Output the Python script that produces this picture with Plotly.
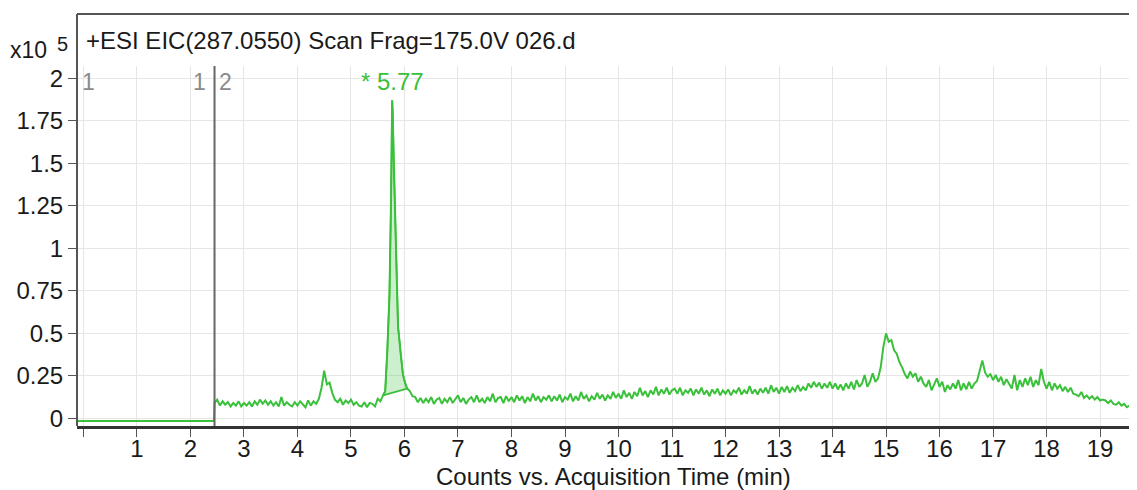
import numpy as np
import plotly.graph_objects as go

# ---------------- data (x10^5 counts vs. minutes) ----------------
flat_t = [-0.12, 2.44]
flat_v = [-0.015, -0.015]

seg1_start, seg1_step = 2.45, 0.05
seg1_v = [
    0.09, 0.11, 0.075, 0.10, 0.08, 0.095, 0.07, 0.09, 0.075, 0.10, 0.07,
    0.09, 0.075, 0.095, 0.07, 0.10, 0.08, 0.11, 0.085, 0.105, 0.08,
    0.10, 0.075, 0.095, 0.07, 0.125, 0.075, 0.095, 0.08, 0.07, 0.095,
    0.075, 0.10, 0.08, 0.065, 0.105, 0.075, 0.10, 0.085, 0.115, 0.18,
    0.28, 0.20, 0.21, 0.15, 0.11, 0.095, 0.115, 0.08, 0.105, 0.09,
    0.11, 0.08, 0.095, 0.075, 0.07, 0.095, 0.065, 0.09, 0.085, 0.07, 0.115, 0.10,
]

peak_t = [5.60, 5.64, 5.68, 5.72, 5.75, 5.765, 5.77, 5.78, 5.80, 5.83, 5.85,
          5.88, 5.93, 5.97, 6.01, 6.05]
peak_v = [0.135, 0.16, 0.40, 0.73, 1.30, 1.75, 1.87, 1.80, 1.51, 1.14, 0.90,
          0.54, 0.38, 0.26, 0.21, 0.175]

seg2_start, seg2_step = 6.10, 0.05
seg2_v = [
    0.16, 0.13, 0.125, 0.095, 0.12, 0.09, 0.115, 0.095, 0.125, 0.085, 0.11, 0.12, 0.085, 0.115, 0.095, 0.125, 0.09, 0.11,
    0.135, 0.095, 0.12, 0.085, 0.11, 0.125, 0.095, 0.135, 0.095, 0.115, 0.09, 0.125, 0.10, 0.145, 0.095, 0.12, 0.125, 0.09, 0.13, 0.10,
    0.125, 0.095, 0.135, 0.105, 0.13, 0.09, 0.125, 0.10, 0.145, 0.105, 0.13, 0.095, 0.125, 0.11, 0.135, 0.10, 0.13, 0.105, 0.14, 0.095,
    0.125, 0.11, 0.145, 0.10, 0.13, 0.105, 0.155, 0.115, 0.135, 0.10, 0.13, 0.11, 0.15, 0.115, 0.14, 0.105, 0.135, 0.115, 0.155, 0.12,
    0.145, 0.115, 0.165, 0.125, 0.15, 0.115, 0.155, 0.13, 0.18, 0.135, 0.16, 0.125, 0.165, 0.14, 0.185, 0.135, 0.17, 0.145, 0.18, 0.14,
    0.165, 0.175, 0.145, 0.18, 0.135, 0.165, 0.15, 0.175, 0.135, 0.17, 0.145, 0.18, 0.14, 0.165, 0.13, 0.17, 0.145, 0.175, 0.135, 0.165,
    0.145, 0.17, 0.135, 0.165, 0.15, 0.18, 0.14, 0.165, 0.145, 0.19, 0.145, 0.17, 0.14, 0.175, 0.15, 0.18, 0.145, 0.195, 0.155, 0.18,
    0.145, 0.185, 0.155, 0.19, 0.15, 0.18, 0.16, 0.195, 0.16, 0.185, 0.165, 0.205, 0.18, 0.215, 0.185, 0.21, 0.175, 0.205, 0.18, 0.215,
    0.175, 0.205, 0.17, 0.20, 0.165, 0.205, 0.175, 0.215, 0.17, 0.225, 0.185, 0.205, 0.255, 0.185, 0.215, 0.265, 0.215, 0.235, 0.30, 0.42,
    0.50, 0.45, 0.46, 0.40, 0.38, 0.33, 0.30, 0.26, 0.235, 0.275, 0.245, 0.265, 0.215, 0.245, 0.205, 0.185, 0.225, 0.165, 0.205, 0.235,
    0.185, 0.215, 0.155, 0.195, 0.17, 0.205, 0.175, 0.225, 0.165, 0.205, 0.17, 0.215, 0.175, 0.205, 0.22, 0.28, 0.34, 0.27, 0.245, 0.26,
    0.225, 0.255, 0.215, 0.245, 0.195, 0.23, 0.205, 0.175, 0.255, 0.165, 0.225, 0.185, 0.235, 0.195, 0.245, 0.185, 0.225, 0.195, 0.29, 0.215,
    0.175, 0.215, 0.165, 0.205, 0.175, 0.195, 0.16, 0.185, 0.155, 0.18, 0.145, 0.14, 0.13, 0.155, 0.12, 0.135, 0.115, 0.13, 0.11, 0.125,
    0.105, 0.11, 0.105, 0.09, 0.105, 0.085, 0.08, 0.095, 0.075, 0.085, 0.065, 0.075, 0.06, 0.07, 0.06,
]

x_tickvals = list(range(0, 20))
x_ticktext = [""] + [str(i) for i in range(1, 20)]
y_tickvals = [0, 0.25, 0.5, 0.75, 1, 1.25, 1.5, 1.75, 2]
y_ticktext = ["0", "0.25", "0.5", "0.75", "1", "1.25", "1.5", "1.75", "2"]

title_text = "+ESI EIC(287.0550) Scan Frag=175.0V 026.d"
xlabel = "Counts vs. Acquisition Time (min)"
peak_label = "* 5.77"
peak_label_t = 5.77

# ---------------- build ----------------
seg1_t = list(np.round(seg1_start + seg1_step * np.arange(len(seg1_v)), 3))
seg2_t = list(np.round(seg2_start + seg2_step * np.arange(len(seg2_v)), 3))

all_t = flat_t + seg1_t + peak_t + seg2_t
all_v = flat_v + seg1_v + peak_v + seg2_v

GREEN = "rgb(58,192,58)"
GREY_TXT = "#8a8a8a"
TXT = "#1a1a1a"

# page has an 8px body margin: figure is shifted by 8px in the screenshot
OFF = 8
FIG_W, FIG_H = 1137 - OFF, 490 - OFF
PL, PT, PB = 77 - OFF, 66 - OFF, 426 - OFF   # plot left/top/bottom in figure px
PW, PH = FIG_W - PL, PB - PT


def px(xp):   # screenshot x -> paper x
    return (xp - OFF - PL) / PW


def py(yp):   # screenshot y -> paper y
    return (PB - (yp - OFF)) / PH


fig = go.Figure()
fig.add_trace(go.Scatter(
    x=peak_t + [peak_t[0]], y=peak_v + [peak_v[0]],
    mode="lines", fill="toself", fillcolor="rgba(58,192,58,0.25)",
    line=dict(color=GREEN, width=1.6), hoverinfo="skip"))
fig.add_trace(go.Scatter(x=all_t, y=all_v, mode="lines",
                         line=dict(color=GREEN, width=2)))

fig.update_layout(
    width=FIG_W, height=FIG_H,
    margin=dict(l=PL, r=0, t=PT, b=FIG_H - PB, autoexpand=False),
    plot_bgcolor="white", paper_bgcolor="white", showlegend=False,
    font=dict(family="Liberation Sans, Arial, sans-serif", size=24, color=TXT),
    xaxis=dict(range=[-0.12, 19.69], tickvals=x_tickvals, ticktext=x_ticktext,
               showgrid=True, gridcolor="#e6e6e6", gridwidth=1,
               ticks="outside", ticklen=8, tickcolor="#555", tickwidth=1,
               showline=True, linecolor="#333", linewidth=3, zeroline=False,
               tickfont=dict(size=24, color=TXT), automargin=False,
               ticklabelstandoff=-9),
    yaxis=dict(range=[-0.045, 2.072], tickvals=y_tickvals, ticktext=y_ticktext,
               showgrid=True, gridcolor="#e6e6e6", gridwidth=1,
               ticks="outside", ticklen=8, tickcolor="#555", tickwidth=1,
               showline=False, zeroline=False, tickfont=dict(size=24, color=TXT),
               automargin=False),
)

# frame (left + top) and the segment separator
fig.add_shape(type="line", xref="paper", yref="paper", x0=0, x1=0, y0=0, y1=py(14),
              line=dict(color="#555", width=2))
fig.add_shape(type="line", xref="paper", yref="paper", x0=0, x1=1, y0=py(14), y1=py(14),
              line=dict(color="#555", width=2))
fig.add_shape(type="line", xref="x", yref="paper", x0=2.45, x1=2.45, y0=0, y1=1,
              line=dict(color="#666", width=2))

fig.add_annotation(xref="paper", yref="paper", x=px(84), y=py(40),
                   text=title_text, showarrow=False, xanchor="left", yanchor="middle",
                   font=dict(size=24, color=TXT))
fig.add_annotation(xref="paper", yref="paper", x=px(8), y=py(50),
                   text="x10", showarrow=False, xanchor="left", yanchor="middle",
                   font=dict(size=23, color=TXT))
fig.add_annotation(xref="paper", yref="paper", x=px(55), y=py(44),
                   text="5", showarrow=False, xanchor="left", yanchor="middle",
                   font=dict(size=20, color=TXT))
fig.add_annotation(xref="paper", yref="paper", x=px(613), y=py(476),
                   text=xlabel, showarrow=False, xanchor="center", yanchor="middle",
                   font=dict(size=24, color=TXT))

lab_y = 1.978
fig.add_annotation(x=-0.06, y=lab_y, text="1", showarrow=False, xanchor="left", yanchor="middle",
                   font=dict(size=23, color=GREY_TXT))
fig.add_annotation(x=2.33, y=lab_y, text="1", showarrow=False, xanchor="right", yanchor="middle",
                   font=dict(size=23, color=GREY_TXT))
fig.add_annotation(x=2.50, y=lab_y, text="2", showarrow=False, xanchor="left", yanchor="middle",
                   font=dict(size=23, color=GREY_TXT))
fig.add_annotation(x=19.52, y=lab_y, text="2", showarrow=False, xanchor="left", yanchor="middle",
                   font=dict(size=23, color=GREY_TXT))
fig.add_annotation(x=peak_label_t, y=lab_y, text=peak_label, showarrow=False,
                   xanchor="center", yanchor="middle", font=dict(size=24, color=GREEN))

fig.write_html("out.html")
